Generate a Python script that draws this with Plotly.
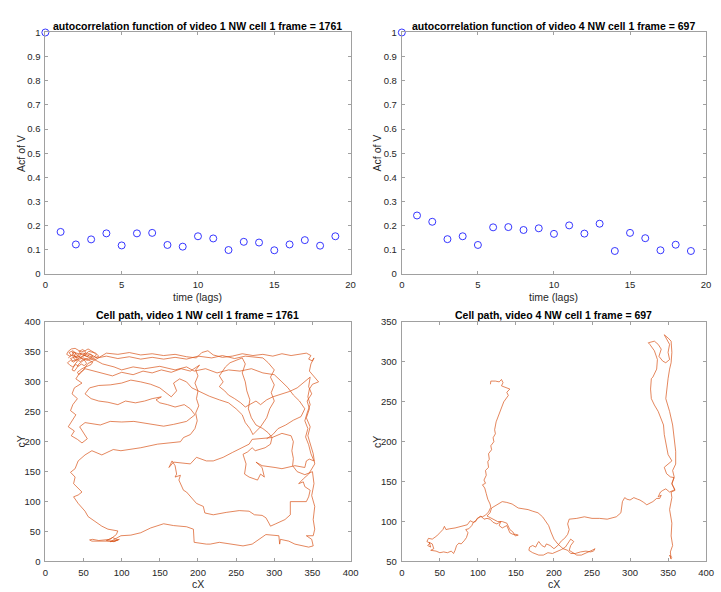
import plotly.graph_objects as go

W, H = 721, 592
FONT = "Liberation Sans, Arial, sans-serif"

# ---------------- data ----------------
lags = list(range(20))
acf_v1 = [1.0, 0.174, 0.122, 0.143, 0.168, 0.118, 0.168, 0.170, 0.120, 0.113,
          0.156, 0.147, 0.099, 0.133, 0.130, 0.098, 0.122, 0.140, 0.117, 0.156]
acf_v4 = [1.0, 0.242, 0.216, 0.144, 0.156, 0.120, 0.193, 0.194, 0.182, 0.189,
          0.166, 0.201, 0.167, 0.208, 0.095, 0.170, 0.148, 0.098, 0.121, 0.095]

title_acf_v1 = "autocorrelation function of video 1 NW cell 1 frame = 1761"
title_acf_v4 = "autocorrelation function of video 4 NW cell 1 frame = 697"
title_path_v1 = "Cell path, video 1 NW cell 1 frame = 1761"
title_path_v4 = "Cell path, video 4 NW cell 1 frame = 697"

# traced cell path, video 1 (cX, cY)
path_v1 = [
    # dense scribble at top-left
    (30,340),(34,344),(31,349),(36,352),(40,348),(38,343),(43,341),(47,346),(44,351),(49,354),
    (53,350),(50,345),(55,342),(58,347),(62,344),(60,339),(55,336),(50,338),(46,334),(41,337),
    (37,333),(33,336),(29,332),(32,328),(36,325),(40,329),(44,326),(47,330),(51,327),(54,331),
    (52,335),(48,339),(44,343),(40,340),(36,345),(32,343),(28,346),(30,351),(34,355),(39,356),
    (43,353),(47,350),(52,352),(56,355),(60,352),(64,349),(67,345),(63,341),(58,343),(54,346),
    (50,343),(46,340),(42,345),(38,349),(35,346),(38,338),(42,334),(39,330),(35,320),(38,318),
    (41,323),(44,330),(48,334),(52,338),(57,340),(61,337),(65,340),(70,343),(66,348),(61,350),
    (57,351),(53,347),(49,348),(45,347),(41,343),(37,341),(33,339),(36,335),(40,337),(45,338),
    (50,340),(54,338),(58,335),(62,333),(60,329),(56,327),(52,324),(48,322),(45,319),(42,316),
    (44,312),(47,316),(50,320),(53,326),(56,331),(60,333),(64,336),(68,338),(72,341),(75,344),
    # top band
    (80,348),(95,346),(110,349),(125,345),(140,347),(155,344),(170,346),(185,342),(198,340),
    (205,349),(213,352),(220,345),(232,341),(245,343),(258,347),(272,344),(285,346),(298,343),(310,347),
    (322,344),(335,346),(342,348),(348,344),(345,338),(350,335),(352,340),
    (348,330),(346,318),(354,305),(358,300),(350,296),(346,288),(344,275),(347,262),(343,248),(340,235),
    (344,222),(341,208),(345,195),(348,180),(352,168),(346,171),(342,168),(340,157),
    (327,160),(310,155),(301,157),(284,160),(276,166),(284,157),(287,141),(282,146),(278,136),(267,141),
    (261,146),(263,163),(259,179),(265,183),(271,190),(275,185),(288,190),(295,196),(297,207),
    (292,215),(285,222),(276,228),(270,240),(266,255),(268,270),(264,285),(262,300),(258,315),(262,330),(258,340),
    (250,336),(242,332),(236,325),(232,318),(228,310),(233,300),(228,292),(235,285),(240,278),(248,272),
    (256,265),(262,258),(268,262),(276,268),(282,262),(290,270),(298,275),(310,280),(320,284),(330,290),
    (340,300),(347,308),
    (345,292),(349,280),(343,268),(346,255),(342,240),(347,225),(344,210),(348,195),(351,180),(353,163),
    (345,146),(338,138),(332,130),(338,133),(340,125),(347,119),(345,108),(342,100),(332,100),(321,100),
    (321,78),(314,70),(302,63),(295,59),(293,64),(289,73),(284,77),(274,78),(267,84),(254,85),
    (237,82),(220,78),(209,81),(207,92),(198,97),(194,103),(185,116),(181,119),(175,136),(177,144),
    (170,141),(172,146),(170,160),(166,168),(162,157),(168,166),(190,163),(198,174),(211,168),(220,168),
    (233,174),(245,182),(258,190),(267,196),(271,204),
    (297,207),(310,214),(322,210),(325,200),(323,185),(325,172),(324,160),(330,150),(340,145),(350,150),
    (352,130),(349,110),(353,92),(351,70),(353,54),(351,43),(342,43),(349,37),(351,26),(345,24),
    (327,29),(319,34),(308,37),(307,29),(306,43),(289,45),(271,29),(259,26),(246,29),(228,32),
    (216,29),(211,29),(195,32),(194,54),(185,58),(168,60),(155,63),(138,56),(125,48),(112,44),
    (99,43),(92,38),(85,33),(95,36),(88,40),(80,35),(90,33),(97,37),(91,34),(69,34),
    (61,34),(58,36),(62,37),(70,35),(85,37),(93,45),(95,51),(82,54),(74,59),(65,67),
    (56,75),(52,84),(43,97),(37,108),(43,111),(48,116),(41,125),(37,130),(39,141),(33,149),
    (39,155),(43,168),(52,178),(61,185),
    (74,178),(89,187),(99,185),(125,190),(147,196),(177,200),(181,207),(190,212),(196,222),
    (199,235),(197,248),(201,260),(198,272),(200,285),(196,298),(200,310),(197,320),(202,328),
    (190,318),(178,322),(165,316),(152,320),(140,315),(128,318),(115,312),(100,316),(88,310),(75,314),
    (62,318),(52,322),
    (45,315),(40,305),(48,298),(38,290),(35,280),(42,272),(36,262),(33,252),(40,245),(35,235),
    (30,225),(38,218),(34,210),(42,204),(48,198),(55,205),(50,215),(45,225),(52,232),
    (60,230),(72,228),(85,234),(100,233),(116,234),(130,231),(145,228),(155,226),(168,229),(185,234),
    (196,245),(190,255),(182,262),(170,258),(160,262),(150,265),(145,270),(152,275),(140,272),(130,268),
    (118,265),(105,268),(95,262),(82,266),(70,268),(60,272),(52,280),(58,290),(70,294),(85,295),
    (100,298),(112,303),(125,300),(138,296),(150,290),(158,282),(165,275),(172,285),(168,298),(176,305),
    (185,300),(192,290),
    (205,282),(215,276),(228,270),(240,265),(250,255),(258,245),(262,232),(268,222),(272,212),
    (282,225),(290,240),(294,255),(300,268),(296,282),(300,295),(295,308),(300,320),(292,332),(285,340),
    (275,341),(262,343),(248,339),(232,344),(218,340),(200,343),(185,338),(170,341),(155,338),(140,341),
    (125,338),(110,342),(95,339),(80,343),(68,340),
    (55,348),(42,338),(35,350),(50,345),
    (60,340),(75,330),(90,325),(100,320),(115,325),(130,322),(150,326),(170,320),(185,325),(195,318),
    (210,322),(225,315),(240,320),(255,318),(270,322),(285,315),(300,312),(310,300),(318,290),(325,278),
    (333,268),(340,255),(335,242),(325,236),(315,228),(305,222),(298,212),(290,205),
]

# traced cell path, video 4 (cX, cY)
path_v4 = [
    (116.5,272),(117,276),(123,276),(128,275),(131,278),(133,274),(131,270),(136,268),(142,266),(138,262),
    (140,258),(134,250),(130,240),(127,232),(124,225),(122,215),(123,210),(120,205),(121,200),(117,195),
    (118,190),(114,185),(115,178),(113,175),(114,168),(110,164),(111,158),(108,152),(110,148),(106,146),
    (109,142),(111,135),(113,128),(116,122),(117,118),(114,112),(110,108),(106,106),(103,106),(99,104),
    (97,100),(94,99),(90,101),(86,96),(82,95),(75,93),(70,92),(63,91),(58,90),(56,94),
    (54,90),(50,86),(48,84),(46,82),(40,78),(35,79),(33,75),(37,73),(34,70),(38,68),
    (36,74),(40,72),(42,66),(38,64),(45,63),(50,61),(55,62),(60,61),(65,63),(68,60),
    (70,64),(72,70),(75,73),(78,72),(82,76),(85,80),(87,86),(84,90),(88,91),(92,95),
    (94,99),(97,101),(101,105),(104,107),(108,103),(112,104),(116,103),(118,101),(120,99),(125,97),
    (130,100),(128,95),(132,92),(138,95),(140,90),(142,86),(146,84),(150,84),(153,83),(149,82),
    (146,87),(142,90),(138,98),(132,100),(126,100),(118,104),(112,107),(116,111),(118,117),(125,121),
    (132,125),(138,124),(145,122),(153,117),(160,116),(166,115),(172,113),(179,111),(185,106),(190,100),
    (193,95),(196,87),(200,78),(205,72),(212,66),(218,64),(222,60),(228,60),(235,62),(242,63),
    (248,62),(252,63),(254,66),(250,64),(243,61),(236,58),(230,58),(224,61),(220,64),(222,70),
    (226,75),(222,78),(218,73),(215,68),(210,65),(204,62),(198,60),(192,61),(186,58),(180,58),
    (172,61),(167,64),(168,68),(172,70),(176,68),(178,72),(180,75),(184,70),(188,68),(190,72),
    (195,70),(200,66),(205,70),(210,76),(214,79),(218,84),(220,90),(218,97),(220,103),(230,104),
    (240,106),(250,104),(260,104),(270,103),(282,106),(288,111),(290,125),(293,130),(296,128),(300,127),
    (305,130),(310,128),(313,127),(318,124),(322,121),(330,125),(335,129),(339,129),(341,133),(337,131),
    (340,137),(343,139),(347,141),(352,137),(356,139),(359,140),(355,147),(358,155),(353,156),(348,160),
    (345,168),(350,172),(355,176),(350,184),(347,197),(345,209),(344,221),(341,229),(337,238),(332,246),
    (328,254),(327,266),(328,279),(330,281),(335,291),(336,303),(332,314),(326,322),(324,324),(332,326),
    (337,322),(341,316),(338,307),(343,301),(347,299),(352,303),(350,312),(352,322),(347,332),(345,334),
    (350,330),(354,326),(355,312),(354,299),(352,291),(350,279),(347,254),(352,238),(356,221),(358,205),
    (360,188),(360,172),(356,164),(358,156),(355,148),(359,139),(354,137),(355,130),(353,120),(352,115),
    (355,98),(354,82),(356,70),(353,62),(354,53),(352,58),(355,55),
]

# ---------------- layout helpers ----------------
def fx(px):
    return px / W

def fy(py):
    return 1 - py / H

AX = {  # pixel boxes (left, right, top, bottom)
    "tl": (43, 353, 27, 273),
    "tr": (405, 714, 27, 273),
    "bl": (43, 353, 322, 566),
    "br": (405, 714, 322, 566),
}

AXCOL = "#a0a0a0"

def axis(box, horizontal, rng, dtick, anchor):
    l, r, t, b = box
    dom = [fx(l), fx(r)] if horizontal else [fy(b), fy(t)]
    return dict(domain=dom, range=rng, dtick=dtick, tick0=rng[0], anchor=anchor,
                showline=True, linecolor=AXCOL, linewidth=1, mirror="ticks",
                ticks="inside", ticklen=3, tickwidth=1, tickcolor=AXCOL,
                showgrid=False, zeroline=False, fixedrange=True,
                ticklabelstandoff=2,
                tickfont=dict(family=FONT, size=9.5, color="#262626"))

fig = go.Figure()

fig.add_trace(go.Scatter(x=lags, y=acf_v1, mode="markers", xaxis="x", yaxis="y",
                         marker=dict(symbol="circle-open", size=7, color="#2020ff",
                                     line=dict(width=0.9)), cliponaxis=False))
fig.add_trace(go.Scatter(x=lags, y=acf_v4, mode="markers", xaxis="x2", yaxis="y2",
                         marker=dict(symbol="circle-open", size=7, color="#2020ff",
                                     line=dict(width=0.9)), cliponaxis=False))
fig.add_trace(go.Scatter(x=[p[0] for p in path_v1], y=[p[1] for p in path_v1],
                         mode="lines", xaxis="x3", yaxis="y3",
                         line=dict(color="#D95319", width=0.7)))
fig.add_trace(go.Scatter(x=[p[0] for p in path_v4], y=[p[1] for p in path_v4],
                         mode="lines", xaxis="x4", yaxis="y4",
                         line=dict(color="#D95319", width=0.7)))

annotations = []

def text(x, y, s, size=10.5, bold=False, angle=0, color="#262626"):
    annotations.append(dict(x=fx(x), y=fy(y), xref="paper", yref="paper", text=s,
                            showarrow=False, xanchor="center", yanchor="middle",
                            textangle=angle,
                            font=dict(family=FONT, size=size, color=color,
                                      weight="bold" if bold else "normal")))

for key, ttl in (("tl", title_acf_v1), ("tr", title_acf_v4),
                 ("bl", title_path_v1), ("br", title_path_v4)):
    l, r, t, b = AX[key]
    text((l + r) / 2, t - 7, ttl, size=10.5, bold=True, color="black")

for key, xl, yl in (("tl", "time (lags)", "Acf of V"), ("tr", "time (lags)", "Acf of V"),
                    ("bl", "cX", "cY"), ("br", "cX", "cY")):
    l, r, t, b = AX[key]
    text((l + r) / 2, b + 23, xl)
    text(l - 25, (t + b) / 2, yl, angle=-90)

fig.update_layout(
    width=W, height=H, margin=dict(l=0, r=0, t=0, b=0),
    paper_bgcolor="white", plot_bgcolor="white", showlegend=False,
    xaxis=axis(AX["tl"], True, [0, 20], 5, "y"),
    yaxis=axis(AX["tl"], False, [0, 1], 0.1, "x"),
    xaxis2=axis(AX["tr"], True, [0, 20], 5, "y2"),
    yaxis2=axis(AX["tr"], False, [0, 1], 0.1, "x2"),
    xaxis3=axis(AX["bl"], True, [0, 400], 50, "y3"),
    yaxis3=axis(AX["bl"], False, [0, 400], 50, "x3"),
    xaxis4=axis(AX["br"], True, [0, 400], 50, "y4"),
    yaxis4=axis(AX["br"], False, [50, 350], 50, "x4"),
    annotations=annotations,
)

fig.write_html("out.html", config={"displayModeBar": False},
               post_script="document.body.style.margin='0';document.body.style.overflow='hidden';")
